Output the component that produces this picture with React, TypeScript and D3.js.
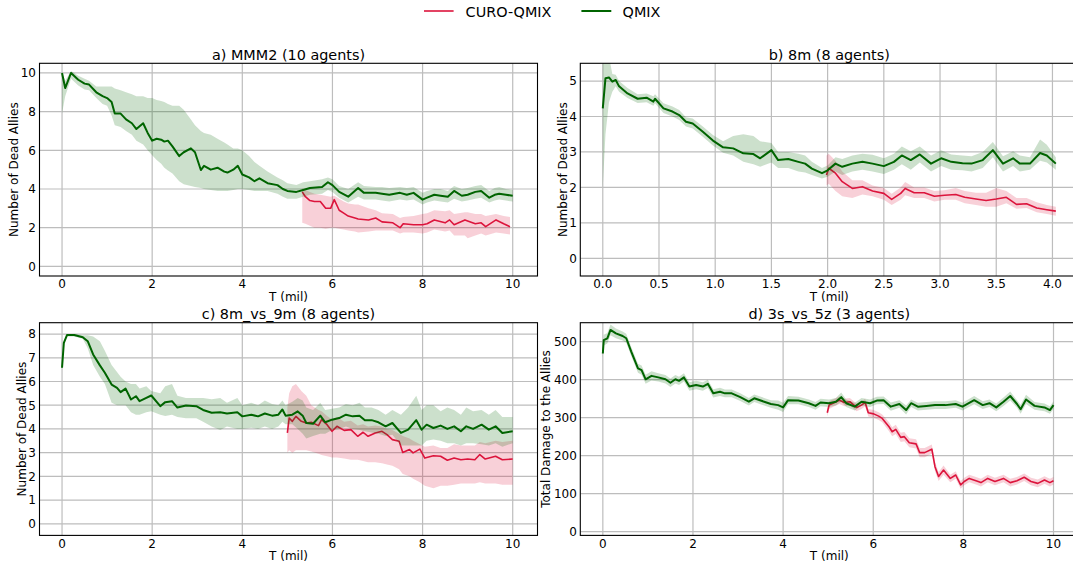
import React from 'react';
import * as d3 from 'd3';

const FONT = '"DejaVu Sans", Verdana, sans-serif';
const RED = '#dc143c';
const GREEN = '#006400';

// ---------- legend ----------
const legendLabels = ['CURO-QMIX', 'QMIX'];

// ---------- tick labels ----------
const tenTicks = [0, 2, 4, 6, 8, 10];
const tenTickLabels = ['0', '2', '4', '6', '8', '10'];
const bXTicks = [0, 0.5, 1, 1.5, 2, 2.5, 3, 3.5, 4];
const bXTickLabels = ['0.0', '0.5', '1.0', '1.5', '2.0', '2.5', '3.0', '3.5', '4.0'];
const aYTicks = [0, 2, 4, 6, 8, 10];
const aYTickLabels = ['0', '2', '4', '6', '8', '10'];
const bYTicks = [0, 1, 2, 3, 4, 5];
const bYTickLabels = ['0', '1', '2', '3', '4', '5'];
const cYTicks = [0, 1, 2, 3, 4, 5, 6, 7, 8];
const cYTickLabels = ['0', '1', '2', '3', '4', '5', '6', '7', '8'];
const dYTicks = [0, 100, 200, 300, 400, 500];
const dYTickLabels = ['0', '100', '200', '300', '400', '500'];

// ---------- a) MMM2 ----------
const aQmixT = [0, 0.07, 0.2, 0.36, 0.5, 0.6, 0.76, 0.9, 1.0, 1.1, 1.17, 1.3, 1.42, 1.55, 1.65, 1.8, 1.9, 2.0, 2.1, 2.2, 2.27, 2.35, 2.45, 2.6, 2.7, 2.86, 2.95, 3.08, 3.15, 3.3, 3.45, 3.6, 3.67, 3.8, 3.9, 4.0, 4.15, 4.27, 4.38, 4.56, 4.78, 4.9, 5.0, 5.2, 5.35, 5.5, 5.77, 5.9, 6.0, 6.15, 6.35, 6.57, 6.7, 6.96, 7.1, 7.26, 7.5, 7.65, 7.8, 8.0, 8.1, 8.26, 8.4, 8.56, 8.7, 8.87, 9.0, 9.17, 9.3, 9.48, 9.6, 9.7, 9.85, 10.0];
const aQmixMean = [10.0, 9.22, 10.0, 9.65, 9.45, 9.4, 9.0, 8.8, 8.7, 8.5, 7.9, 7.9, 7.6, 7.4, 7.1, 7.4, 6.9, 6.5, 6.6, 6.55, 6.45, 6.5, 6.2, 5.7, 5.9, 6.1, 5.9, 4.98, 5.2, 5.0, 5.1, 4.9, 4.85, 5.0, 5.2, 4.75, 4.6, 4.4, 4.55, 4.3, 4.2, 4.0, 3.9, 3.85, 3.95, 4.05, 4.1, 4.35, 4.2, 3.85, 3.6, 4.05, 3.8, 3.8, 3.75, 3.7, 3.8, 3.7, 3.8, 3.45, 3.55, 3.7, 3.65, 3.6, 3.9, 3.65, 3.7, 3.85, 3.9, 3.55, 3.7, 3.75, 3.7, 3.65];
const aQmixLo = [7.9, 8.8, 9.7, 9.35, 9.15, 9.1, 8.7, 8.4, 8.3, 7.8, 7.3, 7.2, 7.0, 6.8, 6.5, 6.3, 6.0, 5.75, 5.5, 5.3, 5.1, 4.95, 4.8, 4.4, 4.25, 4.15, 4.1, 4.05, 4.0, 3.95, 3.9, 3.9, 3.9, 3.95, 4.0, 4.0, 3.95, 3.9, 3.9, 3.9, 3.75, 3.6, 3.5, 3.5, 3.6, 3.7, 3.75, 3.95, 3.85, 3.55, 3.3, 3.6, 3.45, 3.45, 3.4, 3.35, 3.45, 3.4, 3.45, 3.2, 3.3, 3.4, 3.35, 3.3, 3.5, 3.35, 3.4, 3.5, 3.55, 3.3, 3.4, 3.45, 3.4, 3.35];
const aQmixHi = [10.0, 9.6, 10.1, 9.85, 9.7, 9.6, 9.3, 9.3, 9.3, 9.3, 9.2, 9.1, 9.0, 8.9, 8.8, 8.8, 8.7, 8.7, 8.6, 8.55, 8.5, 8.4, 8.3, 8.3, 8.1, 7.6, 7.3, 7.0, 6.9, 6.8, 6.6, 6.4, 6.3, 6.1, 6.1, 6.0, 5.7, 5.4, 5.2, 4.9, 4.6, 4.45, 4.3, 4.2, 4.35, 4.4, 4.5, 4.6, 4.5, 4.15, 4.0, 4.35, 4.15, 4.1, 4.1, 4.05, 4.1, 4.05, 4.1, 3.8, 3.9, 4.0, 4.0, 3.9, 4.15, 4.0, 4.05, 4.15, 4.2, 3.9, 4.05, 4.1, 4.0, 3.95];
const aCuroT = [5.33, 5.4, 5.5, 5.6, 5.73, 5.85, 5.96, 6.04, 6.15, 6.25, 6.35, 6.5, 6.57, 6.8, 6.96, 7.1, 7.34, 7.5, 7.57, 7.8, 8.0, 8.1, 8.26, 8.5, 8.6, 8.7, 8.94, 9.0, 9.17, 9.3, 9.4, 9.63, 9.8, 9.94];
const aCuroMean = [3.85, 3.6, 3.4, 3.35, 3.35, 3.0, 3.0, 3.45, 2.9, 2.75, 2.6, 2.5, 2.45, 2.4, 2.5, 2.3, 2.25, 2.0, 2.2, 2.15, 2.15, 2.2, 2.4, 2.25, 2.4, 2.15, 2.4, 2.35, 2.2, 2.25, 2.05, 2.4, 2.2, 2.05];
const aCuroLo = [2.25, 2.2, 2.1, 2.0, 2.0, 1.95, 2.0, 2.0, 1.95, 1.9, 1.85, 1.8, 1.75, 1.8, 1.85, 1.85, 1.85, 1.7, 1.75, 1.75, 1.7, 1.75, 1.9, 1.8, 1.85, 1.6, 1.6, 1.45, 1.6, 1.7, 1.6, 1.75, 1.7, 1.65];
const aCuroHi = [4.05, 3.95, 3.85, 3.75, 3.7, 3.65, 3.6, 3.65, 3.5, 3.35, 3.25, 3.2, 3.2, 3.0, 2.9, 2.75, 2.7, 2.5, 2.55, 2.6, 2.7, 2.75, 2.9, 2.85, 2.9, 2.7, 2.8, 2.8, 2.7, 2.7, 2.6, 2.7, 2.6, 2.55];

// ---------- b) 8m ----------
const bQmixT = [0, 0.024, 0.055, 0.085, 0.115, 0.145, 0.22, 0.31, 0.39, 0.45, 0.465, 0.54, 0.62, 0.68, 0.74, 0.8, 0.89, 0.98, 1.07, 1.16, 1.25, 1.34, 1.4, 1.5, 1.56, 1.65, 1.74, 1.8, 1.86, 1.95, 2.0, 2.07, 2.13, 2.22, 2.31, 2.4, 2.5, 2.59, 2.66, 2.74, 2.82, 2.92, 3.01, 3.1, 3.2, 3.28, 3.38, 3.47, 3.56, 3.65, 3.71, 3.8, 3.89, 3.95, 4.03];
const bQmixMean = [4.23, 5.08, 5.1, 4.98, 5.03, 4.85, 4.65, 4.5, 4.53, 4.42, 4.5, 4.23, 4.14, 4.04, 3.85, 3.8, 3.57, 3.32, 3.13, 3.1, 2.96, 2.94, 2.82, 3.05, 2.77, 2.8, 2.72, 2.67, 2.53, 2.4, 2.48, 2.67, 2.58, 2.67, 2.72, 2.67, 2.6, 2.72, 2.9, 2.77, 2.93, 2.67, 2.82, 2.72, 2.68, 2.67, 2.77, 3.05, 2.67, 2.82, 2.67, 2.67, 2.97, 2.9, 2.67];
const bQmixLo = [2.0, 3.5, 4.4, 4.7, 4.85, 4.7, 4.52, 4.38, 4.4, 4.3, 4.37, 4.1, 4.0, 3.9, 3.72, 3.66, 3.43, 3.18, 2.98, 2.9, 2.72, 2.65, 2.58, 2.7, 2.55, 2.55, 2.45, 2.42, 2.35, 2.25, 2.3, 2.45, 2.35, 2.45, 2.5, 2.45, 2.38, 2.5, 2.65, 2.5, 2.7, 2.45, 2.6, 2.5, 2.48, 2.45, 2.55, 2.85, 2.45, 2.6, 2.45, 2.5, 2.75, 2.7, 2.5];
const bQmixHi = [5.9, 6.0, 5.7, 5.2, 5.18, 5.0, 4.8, 4.63, 4.65, 4.57, 4.63, 4.37, 4.28, 4.18, 3.98, 3.94, 3.72, 3.48, 3.3, 3.45, 3.5, 3.45, 3.3, 3.25, 3.0, 3.0, 2.95, 2.9, 2.72, 2.55, 2.62, 2.85, 2.8, 2.9, 2.95, 2.92, 2.82, 2.95, 3.15, 3.02, 3.15, 2.9, 3.05, 2.93, 2.9, 2.88, 3.0, 3.28, 2.88, 3.02, 2.9, 2.85, 3.35, 3.2, 2.85];
const bCuroT = [1.99, 2.01, 2.07, 2.13, 2.22, 2.31, 2.4, 2.5, 2.57, 2.65, 2.69, 2.77, 2.86, 2.95, 3.04, 3.14, 3.22, 3.32, 3.41, 3.5, 3.59, 3.68, 3.77, 3.86, 3.95, 4.03];
const bCuroMean = [2.35, 2.54, 2.4, 2.16, 1.97, 2.02, 1.9, 1.83, 1.66, 1.83, 1.97, 1.85, 1.85, 1.75, 1.78, 1.8, 1.72, 1.67, 1.63, 1.67, 1.72, 1.52, 1.54, 1.42, 1.37, 1.33];
const bCuroLo = [2.05, 2.1, 1.9, 1.75, 1.7, 1.8, 1.75, 1.65, 1.5, 1.65, 1.78, 1.7, 1.7, 1.6, 1.65, 1.65, 1.55, 1.5, 1.45, 1.45, 1.55, 1.4, 1.42, 1.3, 1.25, 1.2];
const bCuroHi = [2.9, 2.95, 2.75, 2.45, 2.2, 2.2, 2.05, 1.98, 1.82, 2.0, 2.15, 2.0, 2.0, 1.9, 1.92, 1.98, 1.9, 1.85, 1.85, 1.98, 1.9, 1.7, 1.7, 1.58, 1.5, 1.45];

// ---------- c) 8m_vs_9m ----------
const cQmixT = [0, 0.04, 0.11, 0.27, 0.46, 0.57, 0.69, 0.84, 0.95, 1.1, 1.22, 1.3, 1.41, 1.53, 1.64, 1.72, 1.87, 1.98, 2.18, 2.29, 2.44, 2.56, 2.75, 2.98, 3.13, 3.32, 3.51, 3.66, 3.89, 4.0, 4.2, 4.35, 4.5, 4.66, 4.8, 4.89, 4.96, 5.11, 5.23, 5.34, 5.42, 5.57, 5.73, 5.84, 5.99, 6.15, 6.3, 6.45, 6.6, 6.72, 6.87, 7.02, 7.18, 7.33, 7.52, 7.68, 7.86, 7.98, 8.09, 8.24, 8.4, 8.55, 8.7, 8.85, 8.97, 9.12, 9.31, 9.47, 9.62, 9.77, 10.0];
const cQmixMean = [6.58, 7.63, 7.96, 7.96, 7.87, 7.7, 7.14, 6.68, 6.37, 5.87, 5.73, 5.55, 5.7, 5.24, 5.38, 5.17, 5.31, 5.41, 4.96, 5.13, 5.17, 4.9, 4.99, 4.96, 4.8, 4.68, 4.7, 4.65, 4.7, 4.53, 4.6, 4.53, 4.65, 4.56, 4.6, 4.82, 4.56, 4.6, 4.74, 4.56, 4.25, 4.22, 4.56, 4.28, 4.39, 4.46, 4.6, 4.53, 4.56, 4.37, 4.37, 4.28, 4.11, 4.25, 3.83, 3.97, 4.37, 3.97, 4.18, 4.04, 4.14, 4.0, 4.11, 3.9, 4.11, 4.0, 4.18, 3.97, 4.11, 3.83, 3.9];
const cQmixLo = [6.55, 7.55, 7.9, 7.9, 7.8, 7.4, 6.7, 6.2, 5.9, 5.1, 5.0, 5.0, 5.0, 4.7, 4.6, 4.6, 4.7, 4.75, 4.6, 4.55, 4.6, 4.5, 4.45, 4.45, 4.3, 4.1, 3.95, 4.1, 4.0, 4.0, 4.05, 4.0, 4.1, 4.0, 4.1, 4.3, 4.2, 4.2, 4.0, 3.8, 3.6, 3.7, 3.8, 3.8, 3.95, 4.0, 4.1, 4.0, 3.95, 3.9, 3.85, 3.8, 3.7, 3.75, 3.3, 3.3, 3.3, 3.3, 3.5, 3.55, 3.5, 3.4, 3.4, 3.3, 3.4, 3.4, 3.35, 3.3, 3.4, 3.25, 3.4];
const cQmixHi = [6.6, 7.7, 8.0, 8.0, 7.95, 7.95, 7.9, 7.7, 7.3, 6.7, 6.4, 6.2, 6.0, 5.9, 5.9, 5.7, 5.8, 5.6, 5.5, 5.8, 5.9, 5.4, 5.3, 5.3, 5.3, 5.25, 5.3, 5.1, 5.3, 5.0, 5.1, 5.0, 5.2, 5.05, 5.0, 5.2, 5.0, 5.15, 5.3, 5.2, 4.9, 4.8, 5.1, 4.8, 4.85, 4.9, 5.05, 5.0, 5.1, 4.9, 4.9, 4.8, 4.6, 4.8, 4.6, 4.9, 5.4, 4.8, 5.0, 5.0, 4.75, 4.9, 4.8, 4.6, 4.9, 4.75, 4.8, 4.6, 4.8, 4.5, 4.5];
const cCuroT = [5.0, 5.04, 5.11, 5.19, 5.31, 5.42, 5.53, 5.69, 5.76, 5.88, 5.99, 6.1, 6.26, 6.41, 6.56, 6.68, 6.79, 6.95, 7.1, 7.21, 7.33, 7.48, 7.56, 7.71, 7.79, 7.94, 8.05, 8.24, 8.4, 8.55, 8.7, 8.85, 9.0, 9.16, 9.27, 9.39, 9.62, 9.77, 10.0];
const cCuroMean = [3.83, 4.46, 4.32, 4.53, 4.32, 4.25, 4.28, 4.14, 4.39, 4.18, 3.9, 4.11, 3.94, 3.97, 3.69, 3.86, 3.69, 3.83, 3.9, 3.76, 3.55, 3.48, 3.01, 3.13, 2.99, 3.15, 2.77, 2.87, 2.85, 2.68, 2.77, 2.7, 2.73, 2.7, 2.92, 2.73, 2.85, 2.7, 2.73];
const cCuroLo = [3.0, 3.1, 3.0, 3.1, 3.1, 3.1, 3.05, 2.95, 2.9, 2.85, 2.8, 2.8, 2.75, 2.7, 2.7, 2.65, 2.6, 2.6, 2.55, 2.5, 2.45, 2.3, 2.1, 2.0, 1.9, 1.75, 1.6, 1.5, 1.6, 1.6, 1.65, 1.7, 1.7, 1.7, 1.75, 1.7, 1.7, 1.65, 1.65];
const cCuroHi = [4.9, 5.5, 5.8, 5.9, 5.6, 5.4, 5.0, 4.8, 4.75, 4.55, 4.4, 4.5, 4.3, 4.35, 4.15, 4.2, 4.1, 4.15, 4.1, 4.0, 3.95, 3.8, 3.7, 3.6, 3.5, 3.35, 3.25, 3.3, 3.2, 3.2, 3.35, 3.3, 3.3, 3.3, 3.45, 3.4, 3.5, 3.45, 3.5];

// ---------- d) 3s_vs_5z ----------
const dQmixT = [0, 0.02, 0.1, 0.17, 0.29, 0.44, 0.52, 0.63, 0.78, 0.86, 0.95, 1.08, 1.23, 1.39, 1.5, 1.61, 1.69, 1.8, 1.92, 2.07, 2.22, 2.33, 2.45, 2.6, 2.71, 2.86, 3.05, 3.24, 3.36, 3.58, 3.73, 3.89, 4.0, 4.11, 4.34, 4.57, 4.72, 4.83, 5.02, 5.17, 5.29, 5.4, 5.59, 5.74, 5.93, 6.08, 6.23, 6.39, 6.58, 6.73, 6.84, 6.99, 7.18, 7.37, 7.6, 7.83, 7.98, 8.24, 8.43, 8.58, 8.73, 8.89, 9.04, 9.19, 9.27, 9.39, 9.58, 9.8, 9.92, 10.0];
const dQmixMean = [469, 504, 509, 531, 522, 515, 509, 474, 430, 425, 401, 410, 406, 401, 392, 401, 397, 406, 382, 386, 382, 389, 364, 368, 364, 364, 354, 342, 351, 342, 336, 333, 327, 346, 345, 338, 331, 340, 338, 342, 354, 338, 329, 342, 338, 345, 346, 329, 336, 320, 338, 329, 331, 333, 333, 336, 329, 346, 333, 338, 327, 342, 357, 336, 322, 348, 331, 327, 320, 333];
const dQmixSpread = [12, 14, 14, 14, 13, 12, 12, 12, 12, 12, 12, 12, 11, 11, 11, 11, 11, 11, 11, 11, 11, 11, 11, 11, 10, 10, 10, 10, 10, 10, 10, 12, 12, 11, 10, 10, 10, 10, 10, 10, 12, 10, 10, 10, 10, 10, 10, 11, 10, 12, 10, 10, 10, 10, 10, 10, 10, 11, 10, 10, 10, 11, 12, 10, 12, 12, 10, 10, 10, 10];
const dCuroT = [4.98, 5.02, 5.14, 5.25, 5.36, 5.48, 5.63, 5.74, 5.82, 5.89, 6.01, 6.12, 6.2, 6.35, 6.42, 6.5, 6.61, 6.69, 6.8, 6.95, 7.03, 7.14, 7.3, 7.37, 7.45, 7.56, 7.71, 7.83, 7.94, 8.02, 8.13, 8.28, 8.39, 8.54, 8.7, 8.89, 9.04, 9.19, 9.35, 9.5, 9.65, 9.8, 9.92, 10.0];
const dCuroMean = [313, 333, 340, 346, 340, 342, 327, 333, 340, 313, 310, 304, 298, 276, 263, 269, 248, 250, 234, 231, 208, 208, 217, 171, 145, 162, 140, 149, 123, 132, 140, 134, 129, 140, 132, 140, 129, 134, 143, 132, 127, 136, 129, 134];
const dCuroSpread = [10, 10, 10, 10, 10, 10, 10, 10, 10, 10, 10, 10, 10, 12, 12, 12, 12, 12, 12, 12, 12, 12, 12, 12, 12, 12, 10, 10, 10, 10, 10, 10, 10, 10, 10, 10, 10, 10, 10, 10, 10, 10, 10, 10];

// ---------- layout ----------
const W = 1073;
const H = 565;
const AX_W = 498;
const AX_H = 212.7;
const COL_X = [39.5, 580.3];
const ROW_Y = [63.3, 322.7];

type Series = { t: number[]; mean: number[]; lo: number[]; hi: number[]; color: string; lw: number };

interface PanelCfg {
  id: string;
  title: string;
  ylabel: string;
  left: number;
  top: number;
  xDomain: [number, number];
  yDomain: [number, number];
  xTicks: number[];
  xTickLabels: string[];
  yTicks: number[];
  yTickLabels: string[];
  ylabelX: number;
  series: Series[];
}

const curo = (t: number[], mean: number[], lo: number[], hi: number[]): Series => ({ t, mean, lo, hi, color: RED, lw: 1.6 });
const qmix = (t: number[], mean: number[], lo: number[], hi: number[]): Series => ({ t, mean, lo, hi, color: GREEN, lw: 2 });

const panels: PanelCfg[] = [
  {
    id: 'a', title: 'a) MMM2 (10 agents)', ylabel: 'Number of Dead Allies',
    left: COL_X[0], top: ROW_Y[0], xDomain: [-0.5, 10.55], yDomain: [-0.5, 10.5],
    xTicks: tenTicks, xTickLabels: tenTickLabels, yTicks: aYTicks, yTickLabels: aYTickLabels, ylabelX: 17.9,
    series: [curo(aCuroT, aCuroMean, aCuroLo, aCuroHi), qmix(aQmixT, aQmixMean, aQmixLo, aQmixHi)],
  },
  {
    id: 'b', title: 'b) 8m (8 agents)', ylabel: 'Number of Dead Allies',
    left: COL_X[1], top: ROW_Y[0], xDomain: [-0.2, 4.23], yDomain: [-0.5, 5.5],
    xTicks: bXTicks, xTickLabels: bXTickLabels, yTicks: bYTicks, yTickLabels: bYTickLabels, ylabelX: 566.6,
    series: [curo(bCuroT, bCuroMean, bCuroLo, bCuroHi), qmix(bQmixT, bQmixMean, bQmixLo, bQmixHi)],
  },
  {
    id: 'c', title: 'c) 8m_vs_9m (8 agents)', ylabel: 'Number of Dead Allies',
    left: COL_X[0], top: ROW_Y[1], xDomain: [-0.5, 10.55], yDomain: [-0.49, 8.48],
    xTicks: tenTicks, xTickLabels: tenTickLabels, yTicks: cYTicks, yTickLabels: cYTickLabels, ylabelX: 25.8,
    series: [curo(cCuroT, cCuroMean, cCuroLo, cCuroHi), qmix(cQmixT, cQmixMean, cQmixLo, cQmixHi)],
  },
  {
    id: 'd', title: 'd) 3s_vs_5z (3 agents)', ylabel: 'Total Damage to the Allies',
    left: COL_X[1], top: ROW_Y[1], xDomain: [-0.5, 10.55], yDomain: [-10, 550],
    xTicks: tenTicks, xTickLabels: tenTickLabels, yTicks: dYTicks, yTickLabels: dYTickLabels, ylabelX: 549.5,
    series: [
      curo(dCuroT, dCuroMean, dCuroMean.map((m, i) => m - dCuroSpread[i]), dCuroMean.map((m, i) => m + dCuroSpread[i])),
      qmix(dQmixT, dQmixMean, dQmixMean.map((m, i) => m - dQmixSpread[i]), dQmixMean.map((m, i) => m + dQmixSpread[i])),
    ],
  },
];

function Panel({ cfg }: { cfg: PanelCfg }) {
  const x = d3.scaleLinear().domain(cfg.xDomain).range([cfg.left, cfg.left + AX_W]);
  const y = d3.scaleLinear().domain(cfg.yDomain).range([cfg.top + AX_H, cfg.top]);
  const bottom = cfg.top + AX_H;
  const clipId = `clip-${cfg.id}`;
  const cx = cfg.left + AX_W / 2;
  return (
    <g>
      <defs>
        <clipPath id={clipId}>
          <rect x={cfg.left} y={cfg.top} width={AX_W} height={AX_H} />
        </clipPath>
      </defs>
      <g clipPath={`url(#${clipId})`}>
        {cfg.yTicks.map((v) => (
          <line key={`gy${v}`} x1={cfg.left} x2={cfg.left + AX_W} y1={y(v)} y2={y(v)} stroke="#bdbdbd" strokeWidth={1.2} />
        ))}
        {cfg.xTicks.map((v) => (
          <line key={`gx${v}`} x1={x(v)} x2={x(v)} y1={cfg.top} y2={bottom} stroke="#bdbdbd" strokeWidth={1.2} />
        ))}
        {cfg.series.map((s, k) => {
          const area = d3.area<number>()
            .x((_, i) => x(s.t[i]))
            .y0((_, i) => y(s.lo[i]))
            .y1((_, i) => y(s.hi[i]));
          const line = d3.line<number>()
            .x((_, i) => x(s.t[i]))
            .y((d) => y(d));
          return (
            <g key={k}>
              <path d={area(s.mean) || ''} fill={s.color} fillOpacity={0.2} stroke="none" />
              <path d={line(s.mean) || ''} fill="none" stroke={s.color} strokeWidth={s.lw} strokeLinejoin="round" />
            </g>
          );
        })}
      </g>
      <rect x={cfg.left} y={cfg.top} width={AX_W} height={AX_H} fill="none" stroke="#000" strokeWidth={1.1} />
      {cfg.xTicks.map((v, i) => (
        <text key={`tx${v}`} x={x(v)} y={bottom + 12.2} textAnchor="middle" fontSize={12} fontFamily={FONT} fill="#000">
          {cfg.xTickLabels[i]}
        </text>
      ))}
      {cfg.yTicks.map((v, i) => (
        <text key={`ty${v}`} x={cfg.left - 3.5} y={y(v) + 4.4} textAnchor="end" fontSize={12} fontFamily={FONT} fill="#000">
          {cfg.yTickLabels[i]}
        </text>
      ))}
      <text x={cx} y={bottom + 24.5} textAnchor="middle" fontSize={12} fontFamily={FONT} fill="#000">T (mil)</text>
      <text x={cx} y={cfg.top - 3.4} textAnchor="middle" fontSize={14.4} fontFamily={FONT} fill="#000">{cfg.title}</text>
      <text
        transform={`translate(${cfg.ylabelX},${cfg.top + AX_H / 2}) rotate(-90)`}
        textAnchor="middle" fontSize={12} fontFamily={FONT} fill="#000"
      >
        {cfg.ylabel}
      </text>
    </g>
  );
}

export default function App() {
  return (
    <svg
      width={W}
      height={H}
      viewBox={`0 0 ${W} ${H}`}
      style={{ position: 'absolute', left: 0, top: 0, display: 'block', background: '#fff' }}
    >
      <rect x={0} y={0} width={W} height={H} fill="#fff" />
      {panels.map((p) => (
        <Panel key={p.id} cfg={p} />
      ))}
      {/* legend */}
      <line x1={424} x2={453.6} y1={11} y2={11} stroke={RED} strokeWidth={1.6} />
      <text x={465.6} y={16.7} fontSize={14.4} fontFamily={FONT} fill="#000">{legendLabels[0]}</text>
      <line x1={581.4} x2={611.3} y1={11} y2={11} stroke={GREEN} strokeWidth={2} />
      <text x={622.6} y={16.7} fontSize={14.4} fontFamily={FONT} fill="#000">{legendLabels[1]}</text>
    </svg>
  );
}
